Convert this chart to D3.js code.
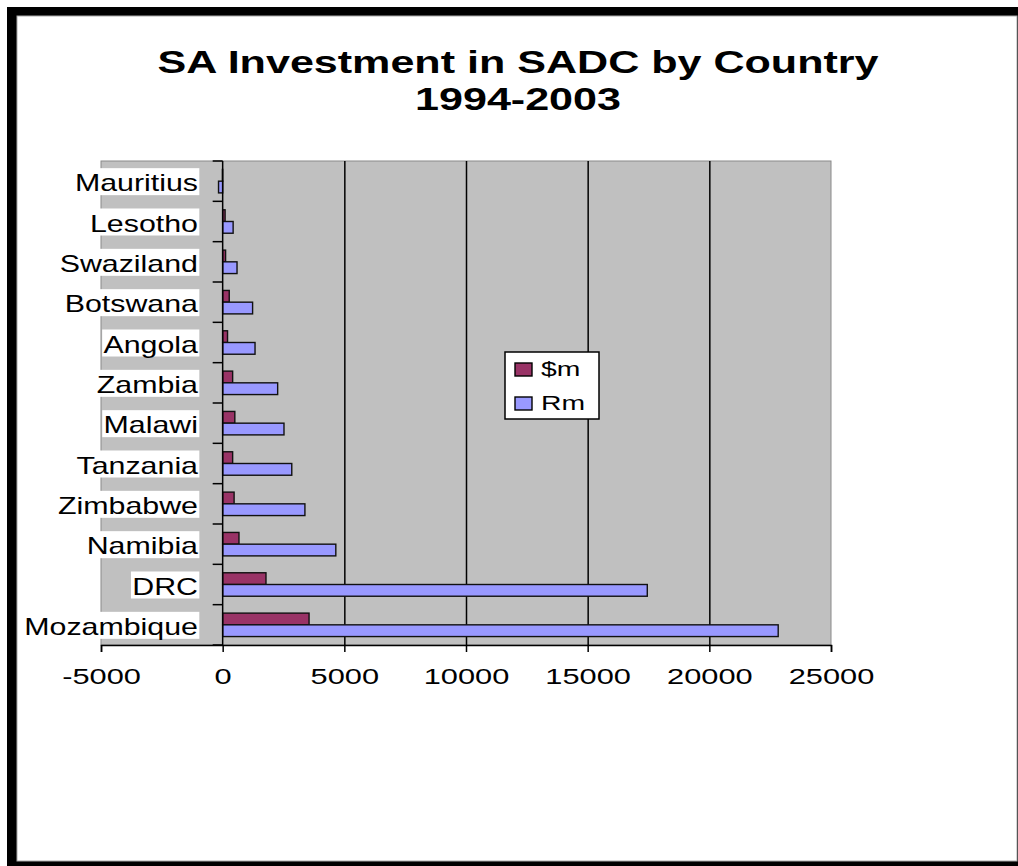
<!DOCTYPE html>
<html>
<head>
<meta charset="utf-8">
<script src="https://cdn.jsdelivr.net/npm/d3@7"></script>
<style>
    html, body { margin: 0; padding: 0; background: #fff; }
    #chart { width: 1018px; height: 866px; }
    text { font-family: "Liberation Sans", Arial, sans-serif; fill: #000; }
</style>
</head>
<body>
<div id="chart"></div>
<script>
//Datos (de arriba a abajo)
const categorias = ['Mauritius', 'Lesotho', 'Swaziland', 'Botswana', 'Angola', 'Zambia', 'Malawi', 'Tanzania', 'Zimbabwe', 'Namibia', 'DRC', 'Mozambique'];
const series = ['$m', 'Rm'];
const valoresDolares = [-10, 100, 120, 270, 200, 410, 500, 410, 470, 670, 1780, 3550];
const valoresRand = [-170, 430, 590, 1230, 1330, 2260, 2520, 2840, 3380, 4650, 17450, 22830];
const ticksX = [-5000, 0, 5000, 10000, 15000, 20000, 25000];
const tituloLineas = ['SA Investment in SADC by Country', '1994-2003'];

//Colores fijos
const COLOR_DOLAR = '#993366',
COLOR_RAND = '#9999FF',
COLOR_FONDO = '#C0C0C0';

let data = categorias.map(function(c, i) {
    return { pais: c, '$m': valoresDolares[i], 'Rm': valoresRand[i] };
});

let svg = d3.select('#chart')
    .append('svg')
        .attr('width', 1018)
        .attr('height', 866);

//Marco negro
svg.append('rect')
    .attr('x', 7).attr('y', 7)
    .attr('width', 1011).attr('height', 859)
    .attr('fill', '#000');

svg.append('rect')
    .attr('x', 17).attr('y', 16)
    .attr('width', 1000).attr('height', 845)
    .attr('fill', '#fff')
    .attr('stroke', '#aaa')
    .attr('stroke-width', 1);

//Titulo
tituloLineas.forEach(function(t, i) {
    svg.append('g')
        .attr('transform', 'translate(518,' + (73 + i * 37) + ') scale(1.39,1)')
        .append('text')
        .attr('text-anchor', 'middle')
        .style('font-size', '31px')
        .style('font-weight', 'bold')
        .text(t);
});

/// ELEMENTOS GENÉRICOS
let margin = {top: 161, left: 101},
    width = 730,
    height = 484;

let g = svg.append('g')
    .attr('transform', 'translate(' + margin.left + ',' + margin.top + ')');

let x = d3.scaleLinear()
    .domain([-5000, 25000])
    .range([0, width]);

let y = d3.scaleBand()
    .domain(categorias)
    .range([0, height])
    .padding(0);

let ySubgroup = d3.scaleBand()
    .domain(series)
    .range([0, y.bandwidth()])
    .paddingInner(0)
    .paddingOuter(0.72);

let color = d3.scaleOrdinal()
    .domain(series)
    .range([COLOR_DOLAR, COLOR_RAND]);

//Fondo del grafico
g.append('rect')
    .attr('width', width)
    .attr('height', height)
    .attr('fill', COLOR_FONDO)
    .attr('stroke', '#8a8a8a')
    .attr('stroke-width', 1);

//Lineas de cuadricula
g.append('g')
    .attr('class', 'grid')
    .attr('transform', 'translate(0,' + height + ')')
    .call(d3.axisBottom(x).tickValues([5000, 10000, 15000, 20000]).tickSize(-height).tickFormat(''))
    .call(function(g){ g.select('.domain').remove(); })
    .call(function(g){ g.selectAll('.tick line').attr('stroke', '#000').attr('stroke-width', 1.5); });

//Barras
g.append('g')
    .selectAll('g')
    .data(data)
    .enter()
    .append('g')
    .attr('transform', function(d) { return 'translate(0,' + y(d.pais) + ')'; })
    .selectAll('rect')
    .data(function(d) { return series.map(function(key) { return {key: key, value: d[key]}; }); })
    .enter()
    .append('rect')
    .attr('x', function(d) { return x(Math.min(0, d.value)); })
    .attr('y', function(d) { return ySubgroup(d.key); })
    .attr('width', function(d) { return Math.abs(x(d.value) - x(0)); })
    .attr('height', ySubgroup.bandwidth())
    .attr('fill', function(d) { return color(d.key); })
    .attr('stroke', '#111')
    .attr('stroke-width', 1.4);

//Eje de categorias (en x = 0)
g.append('line')
    .attr('x1', x(0)).attr('x2', x(0))
    .attr('y1', 0).attr('y2', height)
    .attr('stroke', '#000')
    .attr('stroke-width', 1.5);

let limites = categorias.map(function(c) { return y(c); }).concat([height]);
g.append('g')
    .selectAll('line')
    .data(limites)
    .enter()
    .append('line')
    .attr('x1', x(0) - 10).attr('x2', x(0))
    .attr('y1', function(d) { return d; })
    .attr('y2', function(d) { return d; })
    .attr('stroke', '#000')
    .attr('stroke-width', 1.5);

//Etiquetas con fondo blanco
categorias.forEach(function(c) {
    let lab = svg.append('g')
        .attr('transform', 'translate(198,' + (margin.top + y(c) + y.bandwidth() / 2 + 10) + ') scale(1.32,1)');
    let txt = lab.append('text')
        .attr('text-anchor', 'end')
        .style('font-size', '23px')
        .text(c);
    let bb = txt.node().getBBox();
    lab.insert('rect', 'text')
        .attr('x', bb.x - 1)
        .attr('y', -23)
        .attr('width', bb.width + 2)
        .attr('height', 27)
        .attr('fill', '#fff');
});

//Eje X
g.append('g')
    .attr('transform', 'translate(0,' + height + ')')
    .call(d3.axisBottom(x).tickValues(ticksX).tickSize(7).tickPadding(24).tickFormat(function(d) { return d; }))
    .call(function(g){ g.select('.domain').attr('stroke', '#000').attr('stroke-width', 1.5); })
    .call(function(g){ g.selectAll('.tick line').attr('stroke', '#000').attr('stroke-width', 1.5); })
    .call(function(g){
        g.selectAll('.tick text')
            .attr('fill', '#000')
            .attr('dy', '0.35em')
            .style('font-size', '22px')
            .style('font-family', '"Liberation Sans", Arial, sans-serif')
            .attr('transform', 'scale(1.4,1)');
    });

//Leyenda
let leyenda = svg.append('g');
leyenda.append('rect')
    .attr('x', 505).attr('y', 352)
    .attr('width', 94).attr('height', 67)
    .attr('fill', '#fff')
    .attr('stroke', '#000')
    .attr('stroke-width', 1.5);

series.forEach(function(s, i) {
    leyenda.append('rect')
        .attr('x', 515).attr('y', 363 + i * 34)
        .attr('width', 17).attr('height', 13)
        .attr('fill', color(s))
        .attr('stroke', '#000')
        .attr('stroke-width', 1.4);
    leyenda.append('g')
        .attr('transform', 'translate(541,' + (376 + i * 34) + ') scale(1.35,1)')
        .append('text')
        .style('font-size', '21px')
        .text(s);
});
</script>
</body>
</html>
